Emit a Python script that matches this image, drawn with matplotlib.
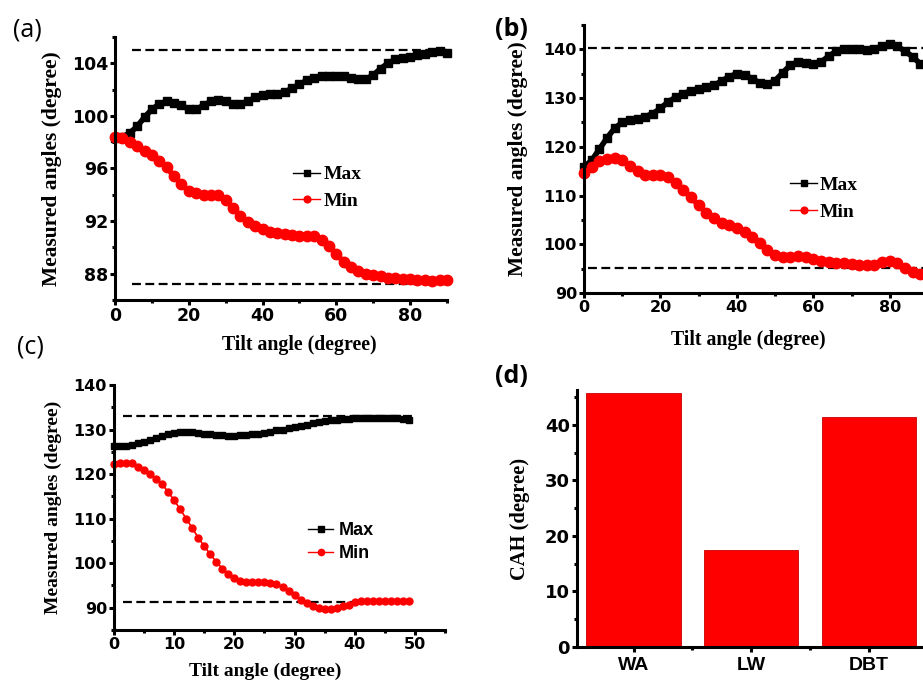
import matplotlib.pyplot as plt
import numpy as np
from matplotlib.ticker import MultipleLocator

# ---- data ----
tilt_ab = np.arange(0, 91, 2)

max_a = [98.3, 98.4, 98.7, 99.2, 99.9, 100.5, 100.9, 101.1, 101.0, 100.8,
         100.5, 100.5, 100.8, 101.1, 101.2, 101.1, 100.9, 100.9, 101.1, 101.4,
         101.6, 101.7, 101.7, 101.8, 102.1, 102.4, 102.7, 102.9, 103.0, 103.0,
         103.0, 103.0, 102.9, 102.8, 102.8, 103.1, 103.6, 104.0, 104.3, 104.4,
         104.5, 104.6, 104.7, 104.85, 104.9, 104.8]
min_a = [98.4, 98.3, 98.0, 97.7, 97.3, 97.0, 96.6, 96.1, 95.4, 94.8,
         94.3, 94.1, 94.0, 94.0, 94.0, 93.6, 93.0, 92.4, 91.9, 91.6,
         91.4, 91.2, 91.1, 91.0, 90.95, 90.9, 90.9, 90.85, 90.6, 90.1,
         89.5, 88.9, 88.5, 88.2, 88.0, 87.9, 87.8, 87.7, 87.65, 87.6,
         87.6, 87.55, 87.5, 87.45, 87.5, 87.55]
ref_a = [105.0, 87.2]

max_b = [115.9, 117.2, 119.5, 121.8, 123.8, 125.0, 125.5, 125.8, 126.2, 126.8,
         127.9, 129.2, 130.2, 130.9, 131.5, 131.9, 132.2, 132.6, 133.5, 134.4,
         135.0, 134.8, 134.0, 133.1, 132.8, 133.6, 135.2, 136.8, 137.4, 137.3,
         137.0, 137.4, 138.6, 139.6, 140.0, 140.0, 140.0, 139.9, 140.1, 140.6,
         141.0, 140.6, 139.6, 138.5, 137.0, 135.8]
min_b = [114.7, 115.8, 117.0, 117.6, 117.7, 117.2, 116.0, 115.0, 114.3, 114.2,
         114.3, 113.9, 112.6, 111.2, 109.6, 108.0, 106.5, 105.3, 104.4, 103.9,
         103.4, 102.5, 101.4, 100.2, 98.8, 97.8, 97.3, 97.3, 97.5, 97.4,
         97.0, 96.6, 96.3, 96.2, 96.1, 95.9, 95.8, 95.7, 95.8, 96.3,
         96.5, 96.2, 95.2, 94.4, 94.0, 93.7]
ref_b = [140.3, 95.2]

tilt_c = np.arange(0, 50, 1)
max_c = [126.3, 126.3, 126.4, 126.5, 126.9, 127.3, 127.7, 128.1, 128.5, 128.9,
         129.2, 129.4, 129.5, 129.4, 129.2, 129.0, 128.9, 128.8, 128.7, 128.6,
         128.6, 128.7, 128.8, 128.9, 129.0, 129.2, 129.5, 129.8, 130.0, 130.3,
         130.6, 130.9, 131.1, 131.4, 131.7, 131.9, 132.1, 132.2, 132.3, 132.4,
         132.5, 132.6, 132.6, 132.7, 132.7, 132.7, 132.6, 132.5, 132.3, 132.2]
min_c = [122.2, 122.5, 122.5, 122.4, 121.6, 120.9, 120.0, 119.0, 117.7, 116.0,
         114.1, 112.1, 110.0, 107.9, 105.7, 103.8, 102.0, 100.3, 98.8, 97.5,
         96.6, 96.0, 95.8, 95.7, 95.7, 95.7, 95.6, 95.3, 94.7, 93.8,
         92.8, 91.8, 91.1, 90.5, 90.0, 89.8, 89.8, 90.0, 90.4, 90.7,
         91.3, 91.5, 91.6, 91.6, 91.6, 91.5, 91.5, 91.5, 91.5, 91.6]
ref_c = [133.0, 91.3]

samples = ['WA', 'LW', 'DBT']
cah = [45.8, 17.5, 41.4]

RED = '#ff0000'
serif = 'Liberation Serif'
W, H = 923, 682

fig = plt.figure(figsize=(W / 100, H / 100), dpi=100)


def px_axes(l, r, t, b):
    return fig.add_axes([l / W, 1 - b / H, (r - l) / W, (b - t) / H])


def style(ax, tick_size):
    for s in ['top', 'right']:
        ax.spines[s].set_visible(False)
    for s in ['left', 'bottom']:
        ax.spines[s].set_linewidth(2.2)
    ax.tick_params(which='major', direction='out', length=3.5, width=2.2,
                   labelsize=tick_size, pad=1.5)
    ax.tick_params(which='minor', direction='out', length=2, width=2.2)
    for lab in ax.get_xticklabels() + ax.get_yticklabels():
        lab.set_fontfamily('DejaVu Sans')
        lab.set_fontweight('bold')


def line_panel(ax, x, ymax, ymin, ref, ref_x, ms_sq, ms_ci, lw_fill):
    ax.plot(ref_x, [ref[0], ref[0]], color='black', lw=1.6, ls=(0, (4, 2)))
    ax.plot(ref_x, [ref[1], ref[1]], color='black', lw=1.6, ls=(0, (4, 2)))
    # thick line under the markers so the dense points read as one band
    ax.plot(x, ymax, color='black', lw=lw_fill, solid_capstyle='butt', clip_on=False)
    ax.plot(x, ymin, color=RED, lw=lw_fill, solid_capstyle='butt', clip_on=False)
    ax.plot(x, ymax, color='black', lw=1, marker='s', ms=ms_sq, mec='black',
            label='Max', clip_on=False)
    ax.plot(x, ymin, color=RED, lw=1, marker='o', ms=ms_ci, mec=RED,
            label='Min', clip_on=False)


def add_legend(ax, anchor, prop, textpad, spacing, scale):
    leg = ax.legend(loc='upper left', bbox_to_anchor=anchor, frameon=False,
                    prop=prop, handlelength=1.4, handletextpad=textpad,
                    labelspacing=spacing, borderpad=0, borderaxespad=0,
                    markerscale=scale)
    return leg


# (a)
ax = px_axes(115, 447, 37, 300)
line_panel(ax, tilt_ab, max_a, min_a, ref_a, [4.5, 90], 6, 7.5, 4)
ax.set_xlim(0, 90)
ax.set_ylim(86, 106)
ax.xaxis.set_major_locator(MultipleLocator(20))
ax.xaxis.set_minor_locator(MultipleLocator(10))
ax.yaxis.set_minor_locator(MultipleLocator(2))
ax.set_yticks([88, 92, 96, 100, 104])
style(ax, 12.5)
ax.set_xlabel('Tilt angle (degree)', family=serif, weight='bold', fontsize=14.3)
ax.xaxis.set_label_coords(0.554, -0.133)
ax.set_ylabel('Measured angles (degree)', family=serif, weight='bold', fontsize=15.5)
ax.yaxis.set_label_coords(-0.16, 0.5)
add_legend(ax, (0.536, 0.51), {'family': serif, 'weight': 'bold', 'size': 14},
           0.2, 0.45, 0.65)

# (b)
ax = px_axes(584, 928, 25, 293)
line_panel(ax, tilt_ab, max_b, min_b, ref_b, [1.1, 90], 6, 7.5, 4)
ax.set_xlim(0, 90)
ax.set_ylim(90, 145)
ax.xaxis.set_major_locator(MultipleLocator(20))
ax.xaxis.set_minor_locator(MultipleLocator(10))
ax.yaxis.set_minor_locator(MultipleLocator(5))
ax.set_yticks([90, 100, 110, 120, 130, 140])
style(ax, 11.5)
ax.set_xlabel('Tilt angle (degree)', family=serif, weight='bold', fontsize=14.3)
ax.xaxis.set_label_coords(0.477, -0.138)
ax.set_ylabel('Measured angles (degree)', family=serif, weight='bold', fontsize=15.5)
ax.yaxis.set_label_coords(-0.163, 0.5)
add_legend(ax, (0.599, 0.436), {'family': serif, 'weight': 'bold', 'size': 14},
           0.1, 0.5, 0.65)

# (c)
ax = px_axes(114, 445, 385, 630)
line_panel(ax, tilt_c, max_c, min_c, ref_c, [1.5, 49.7], 5, 5, 1)
ax.set_xlim(0, 55)
ax.set_ylim(85, 140)
ax.xaxis.set_major_locator(MultipleLocator(10))
ax.xaxis.set_minor_locator(MultipleLocator(5))
ax.yaxis.set_minor_locator(MultipleLocator(5))
ax.set_yticks([90, 100, 110, 120, 130, 140])
style(ax, 11.5)
ax.set_xlabel('Tilt angle (degree)', family=serif, weight='bold', fontsize=14)
ax.xaxis.set_label_coords(0.456, -0.135)
ax.set_ylabel('Measured angles (degree)', family=serif, weight='bold', fontsize=14)
ax.yaxis.set_label_coords(-0.157, 0.5)
add_legend(ax, (0.586, 0.441), {'family': 'Liberation Sans', 'weight': 'bold', 'size': 13},
           0.3, 0.35, 0.9)

# (d)
ax = px_axes(577, 928, 390, 647)
ax.bar(range(len(samples)), cah, width=0.8, color=RED, edgecolor='#cc0000', lw=0.6)
ax.set_xlim(-0.48, 2.5)
ax.set_ylim(0, 46.3)
ax.set_xticks(range(len(samples)))
ax.set_xticks([0.5, 1.5], minor=True)
ax.yaxis.set_major_locator(MultipleLocator(10))
ax.yaxis.set_minor_locator(MultipleLocator(5))
style(ax, 13)
ax.set_xticklabels(samples, family='Liberation Sans', weight='bold', fontsize=14)
ax.tick_params(axis='x', which='major', pad=4)
ax.set_ylabel('CAH (degree)', family=serif, weight='bold', fontsize=14.8)
ax.yaxis.set_label_coords(-0.134, 0.5)

# panel letters
fig.text(13 / W, 1 - 30 / H, '(a)', family='Open Sans', fontsize=18, va='center')
fig.text(495 / W, 1 - 30 / H, '(b)', family='Open Sans', weight='bold', fontsize=18, va='center')
fig.text(17 / W, 1 - 347 / H, '(c)', family='Open Sans', fontsize=18, va='center')
fig.text(495 / W, 1 - 377 / H, '(d)', family='Open Sans', weight='bold', fontsize=18, va='center')

fig.savefig('out.png', dpi=100)
